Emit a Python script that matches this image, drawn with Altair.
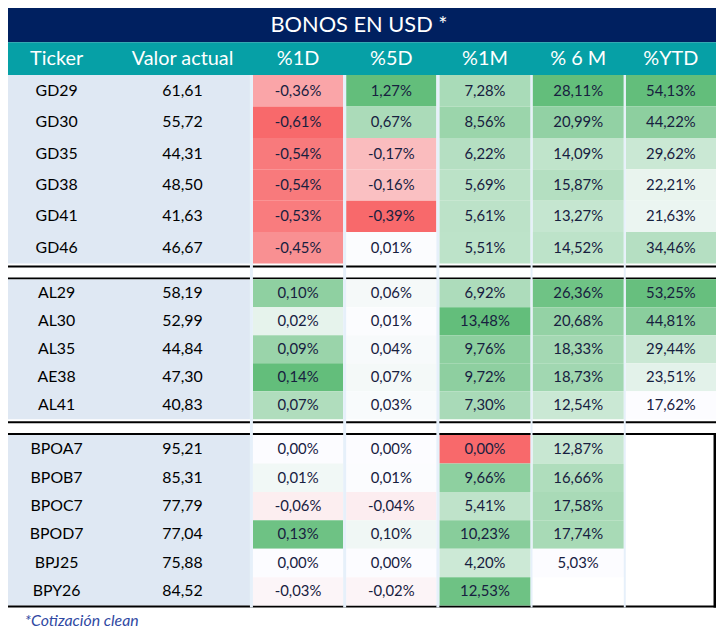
import altair as alt
import pandas as pd

# ---------------- data ----------------
title_text = "BONOS EN USD *"
header_cols = ["Ticker", "Valor actual", "%1D", "%5D", "%1M", "% 6 M", "%YTD"]
pct_cols = ["%1D", "%5D", "%1M", "% 6 M", "%YTD"]
footnote = "*Cotización clean"

tickers_g1 = ["GD29", "GD30", "GD35", "GD38", "GD41", "GD46"]
valor_g1 = [61.61, 55.72, 44.31, 48.50, 41.63, 46.67]
d1_g1 = [-0.36, -0.61, -0.54, -0.54, -0.53, -0.45]
d5_g1 = [1.27, 0.67, -0.17, -0.16, -0.39, 0.01]
m1_g1 = [7.28, 8.56, 6.22, 5.69, 5.61, 5.51]
m6_g1 = [28.11, 20.99, 14.09, 15.87, 13.27, 14.52]
ytd_g1 = [54.13, 44.22, 29.62, 22.21, 21.63, 34.46]

tickers_g2 = ["AL29", "AL30", "AL35", "AE38", "AL41"]
valor_g2 = [58.19, 52.99, 44.84, 47.30, 40.83]
d1_g2 = [0.10, 0.02, 0.09, 0.14, 0.07]
d5_g2 = [0.06, 0.01, 0.04, 0.07, 0.03]
m1_g2 = [6.92, 13.48, 9.76, 9.72, 7.30]
m6_g2 = [26.36, 20.68, 18.33, 18.73, 12.54]
ytd_g2 = [53.25, 44.81, 29.44, 23.51, 17.62]

tickers_g3 = ["BPOA7", "BPOB7", "BPOC7", "BPOD7", "BPJ25", "BPY26"]
valor_g3 = [95.21, 85.31, 77.79, 77.04, 75.88, 84.52]
d1_g3 = [0.00, 0.01, -0.06, 0.13, 0.00, -0.03]
d5_g3 = [0.00, 0.01, -0.04, 0.10, 0.00, -0.02]
m1_g3 = [0.00, 9.66, 5.41, 10.23, 4.20, 12.53]
m6_g3 = [12.87, 16.66, 17.58, 17.74, 5.03, None]
ytd_g3 = [None, None, None, None, None, None]

groups = [
    (tickers_g1, valor_g1, [d1_g1, d5_g1, m1_g1, m6_g1, ytd_g1]),
    (tickers_g2, valor_g2, [d1_g2, d5_g2, m1_g2, m6_g2, ytd_g2]),
    (tickers_g3, valor_g3, [d1_g3, d5_g3, m1_g3, m6_g3, ytd_g3]),
]

# ---------------- layout (table geometry) ----------------
X0, X1, Y0, Y1 = 8, 722, 8, 637
W, H = X1 - X0, Y1 - Y0
group_top = [73, 279, 436]
group_bot = [263, 420, 608]
col_left = [255, 349, 443, 537, 631]
col_right = [346, 440, 535, 629, 722]
ticker_cx, valor_cx = 57, 184
header_cx = [ticker_cx, valor_cx] + [(a + b) / 2 for a, b in zip(col_left, col_right)]
FONT = "Lato"

NAVY = "#002060"
TEAL = "#06a0a6"
TICKBG = "#dfe8f3"
SEP = "#e6f0fa"

# colour-scale kind per column (Excel-like conditional formats)
kinds = ["div", "div", "div", "seq", "seq"]


def fmt(v):
    return f"{v:.2f}".replace(".", ",")


col_all = []
for j in range(5):
    vals = [v for g in groups for v in g[2][j] if v is not None]
    col_all.append((min(vals), max(vals)))


def score(v, j):
    mn, mx = col_all[j]
    if kinds[j] == "div":
        if v < 0:
            return v / abs(mn)
        if v == 0:
            return -1.0 if mn == 0 else 0.0
        return v / mx
    return (v - mn) / (mx - mn) if mx > mn else 0.0


bg_rows, cell_rows, text_rows = [], [], []

# title & header bars
bg_rows.append(dict(x=0, x2=724, y=0, y2=40, fill=NAVY))
bg_rows.append(dict(x=0, x2=724, y=40, y2=73, fill=TEAL))

for gi, (tk, va, cols) in enumerate(groups):
    n = len(tk)
    top, bot = group_top[gi], group_bot[gi]
    rh = (bot - top) / n
    bg_rows.append(dict(x=0, x2=252, y=top, y2=bot, fill=TICKBG))
    for i in range(n):
        y0 = top + i * rh
        cy = y0 + rh / 2
        text_rows.append(dict(cx=ticker_cx, cy=cy, label=tk[i], kind="tick"))
        text_rows.append(dict(cx=valor_cx, cy=cy, label=fmt(va[i]), kind="tick"))
        for j in range(5):
            v = cols[j][i]
            if v is None:
                continue
            cell_rows.append(dict(x=col_left[j], x2=col_right[j], y=y0, y2=y0 + rh,
                                  score=score(v, j)))
            text_rows.append(dict(cx=(col_left[j] + col_right[j]) / 2, cy=cy,
                                  label=fmt(v) + "%", kind="cell"))

# black rules between groups
for (a, b) in [(265, 267), (277, 279), (422, 424), (434, 436), (608, 610)]:
    bg_rows.append(dict(x=0, x2=722, y=a, y2=b, fill="#000000"))
bg_rows.append(dict(x=719.5, x2=722, y=434, y2=610, fill="#000000"))

sep_rows = [dict(x=a, x2=b, y=73, y2=610, fill=SEP)
            for a, b in [(252, 255), (346, 349), (440, 443), (535, 537), (629, 631)]]

bg = pd.DataFrame(bg_rows)
seps = pd.DataFrame(sep_rows)
cells = pd.DataFrame(cell_rows)
texts = pd.DataFrame(text_rows)
heads = pd.DataFrame(dict(cx=header_cx, cy=[56.5] * 7, label=header_cols))
title_df = pd.DataFrame(dict(cx=[362], cy=[23], label=[title_text]))
foot_df = pd.DataFrame(dict(cx=[25], cy=[624], label=[footnote]))

xs = alt.Scale(domain=[X0, X1], nice=False, zero=False)
ys = alt.Scale(domain=[Y0, Y1], nice=False, zero=False, reverse=True)


def rect_layer(df, color_enc):
    return alt.Chart(df).mark_rect(strokeWidth=0).encode(
        x=alt.X("x:Q", scale=xs, axis=None),
        x2="x2:Q",
        y=alt.Y("y:Q", scale=ys, axis=None),
        y2="y2:Q",
        color=color_enc,
    )


bg_layer = rect_layer(bg, alt.Color("fill:N", scale=None, legend=None))
cell_layer = rect_layer(cells, alt.Color(
    "score:Q",
    scale=alt.Scale(domain=[-1, 0, 1], range=["#F8696B", "#FCFCFF", "#63BE7B"],
                    interpolate="rgb"),
    legend=None))
sep_layer = rect_layer(seps, alt.Color("fill:N", scale=None, legend=None))


def text_layer(df, **kw):
    return alt.Chart(df).mark_text(font=FONT, baseline="middle", **kw).encode(
        x=alt.X("cx:Q", scale=xs, axis=None),
        y=alt.Y("cy:Q", scale=ys, axis=None),
        text="label:N",
    )


tick_text = text_layer(texts[texts.kind == "tick"], fontSize=16, color="#000000", align="center")
cell_text = text_layer(texts[texts.kind == "cell"], fontSize=15, color="#17203f", align="center")
head_text = text_layer(heads, fontSize=20, color="#ffffff", align="center")
title_txt = text_layer(title_df, fontSize=22, color="#ffffff", align="center")
foot_txt = text_layer(foot_df, fontSize=16, color="#3049a3", align="left", fontStyle="italic")

chart = alt.layer(
    bg_layer, cell_layer, sep_layer, tick_text, cell_text, head_text, title_txt, foot_txt
).properties(
    width=W, height=H, padding=0, background="#ffffff",
    autosize=alt.AutoSizeParams(type="none"),
).configure_view(stroke=None)

chart.save("out.html", embed_options={"renderer": "svg", "actions": False})
